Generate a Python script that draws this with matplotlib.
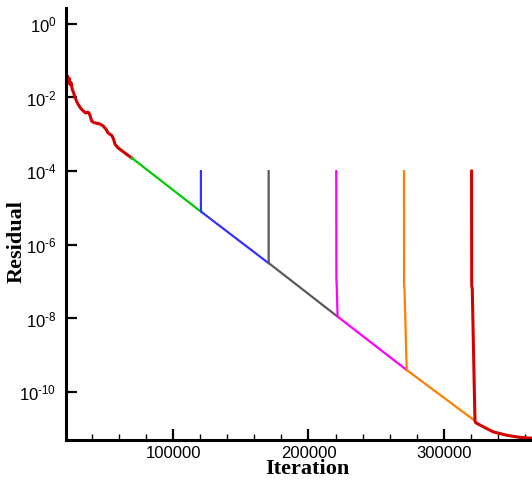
import numpy as np
import matplotlib
matplotlib.use('Agg')
import matplotlib.pyplot as plt
from matplotlib.ticker import FixedLocator, MultipleLocator, NullLocator

plt.rcParams['font.family'] = ['Liberation Sans', 'DejaVu Sans']
plt.rcParams['mathtext.fontset'] = 'custom'
plt.rcParams['mathtext.rm'] = 'Liberation Sans'
plt.rcParams['mathtext.default'] = 'regular'

# residual history, stored as log10(residual)
start_iter = [21000, 21600, 22200, 22800, 23400, 24000, 24800, 25600, 26500, 27500, 28900,
              30500, 32000, 33600, 35500, 37000, 38000, 39000, 40000, 41500, 43700,
              46000, 48300, 50500, 52000, 53500, 54800, 56000, 57200, 59500, 62100,
              66000, 69500]
start_log = [-1.38, -1.50, -1.42, -1.58, -1.48, -1.65, -1.60, -1.78, -1.86, -1.98, -2.11,
             -2.22, -2.30, -2.36, -2.42, -2.40, -2.42, -2.52, -2.64, -2.68, -2.70,
             -2.72, -2.77, -2.86, -2.96, -3.00, -3.03, -3.12, -3.27, -3.37, -3.44,
             -3.55, -3.64]

green_iter = [69500, 120600]
green_log = [-3.64, -5.10]

blue_iter = [120600, 120600, 120700, 170600]
blue_log = [-4.00, -5.00, -5.10, -6.50]

gray_iter = [170600, 170600, 170800, 221500]
gray_log = [-4.00, -6.40, -6.50, -7.95]

magenta_iter = [220500, 220600, 220800, 221500, 272500]
magenta_log = [-4.00, -6.95, -7.05, -7.95, -9.40]

orange_iter = [270500, 270600, 270900, 272500, 322900]
orange_log = [-4.00, -7.10, -7.20, -9.40, -10.78]

red_iter = [320400, 320500, 320900, 322900, 323400, 329000, 336400, 346300, 356100, 364700]
red_log = [-4.00, -7.10, -7.20, -10.78, -10.83, -10.94, -11.08, -11.17, -11.23, -11.25]

ytick_exp = ['0', '-2', '-4', '-6', '-8', '-10']

fig = plt.figure(figsize=(5.32, 4.8), dpi=100)
ax = fig.add_axes([66 / 532, 40 / 480, 466 / 532, 432 / 480])

ax.plot(start_iter, 10.0 ** np.array(start_log), color='#d40000', lw=2.2)
ax.plot(green_iter, 10.0 ** np.array(green_log), color='#00cc00', lw=1.6)
ax.plot(blue_iter, 10.0 ** np.array(blue_log), color='#3333ff', lw=1.6)
ax.plot(gray_iter, 10.0 ** np.array(gray_log), color='#5a5a5a', lw=1.6)
ax.plot(magenta_iter, 10.0 ** np.array(magenta_log), color='#ff00ff', lw=1.6)
ax.plot(orange_iter, 10.0 ** np.array(orange_log), color='#ff8000', lw=1.6)
ax.plot(red_iter, 10.0 ** np.array(red_log), color='#d40000', lw=2.2)

ax.set_yscale('log')
ax.set_xlim(21000, 365000)
ax.set_ylim(10 ** -11.3, 10 ** 0.43)

yt = [10.0 ** int(e) for e in ytick_exp]
ax.yaxis.set_major_locator(FixedLocator(yt))
ax.yaxis.set_minor_locator(NullLocator())
# plain hyphen in the exponent, like the original
ax.set_yticklabels(['10$^{%s}$' % e.replace('-', '\u2010') for e in ytick_exp])

ax.xaxis.set_major_locator(FixedLocator([100000, 200000, 300000]))
ax.xaxis.set_minor_locator(MultipleLocator(20000))
ax.set_xticklabels(['100000', '200000', '300000'])

ax.tick_params(which='major', direction='in', length=8, width=1.6, labelsize=12, pad=4)
ax.tick_params(which='minor', direction='in', length=4, width=1.0)
ax.tick_params(axis='y', pad=7)

for s in ['top', 'right']:
    ax.spines[s].set_visible(False)
for s in ['left', 'bottom']:
    ax.spines[s].set_linewidth(2.2)

ax.set_xlabel('Iteration', family='Liberation Serif', fontweight='bold', fontsize=16, labelpad=0)
ax.xaxis.set_label_coords(0.519, -0.045)
ax.set_ylabel('Residual', family='Liberation Serif', fontweight='bold', fontsize=16)
ax.yaxis.set_label_coords(-0.085, 0.46)

fig.savefig('out.png', dpi=100)
